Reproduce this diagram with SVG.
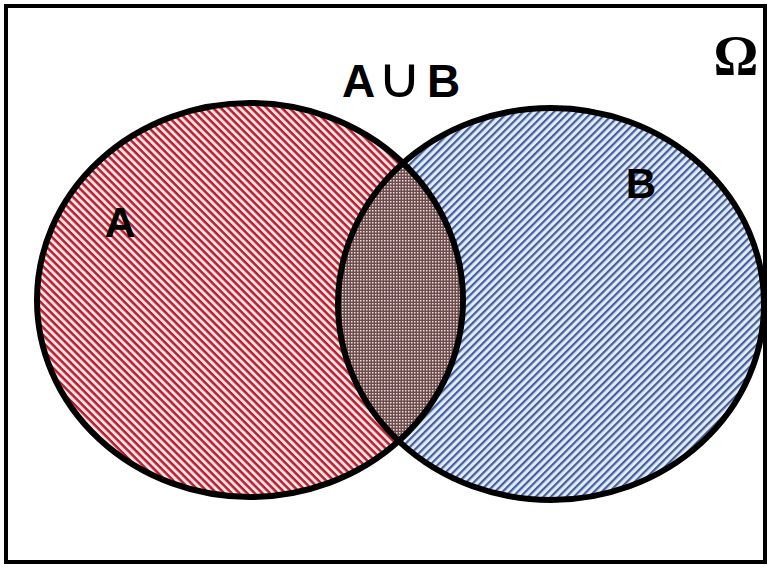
<svg xmlns="http://www.w3.org/2000/svg" width="771" height="568" viewBox="0 0 771 568">
<defs>
<pattern id="hatchA" patternUnits="userSpaceOnUse" width="5.4" height="5.4" patternTransform="rotate(45)">
<rect width="5.4" height="5.4" fill="#fbe3e3"/>
<rect y="0" width="5.4" height="2.5" fill="#b81d30"/>
</pattern>
<pattern id="hatchB" patternUnits="userSpaceOnUse" width="5.4" height="5.4" patternTransform="rotate(-45)">
<rect width="5.4" height="5.4" fill="#dcedf9"/>
<rect y="0" width="5.4" height="2.2" fill="#4a5c9a"/>
</pattern>
<pattern id="check" patternUnits="userSpaceOnUse" width="3" height="3">
<rect width="3" height="3" fill="#6e4c4c"/>
<rect x="0" y="0" width="1.5" height="1.5" fill="#e8dede"/>
</pattern>
<clipPath id="clipA"><ellipse cx="250" cy="300" rx="213" ry="197"/></clipPath>
</defs>
<style>
.outline{fill:none;stroke:#000;stroke-width:6}
.lbl{font-family:"Liberation Sans",Arial,sans-serif;font-weight:bold;fill:#000}
</style>
<rect x="6" y="6" width="759" height="556" fill="#fff" stroke="#000" stroke-width="4"/>
<g id="setA">
<ellipse cx="250" cy="300" rx="213" ry="197" fill="url(#hatchA)"/>
</g>
<g id="setB">
<ellipse cx="551" cy="304" rx="213" ry="196" fill="url(#hatchB)"/>
</g>
<g id="intersection">
<ellipse cx="551" cy="304" rx="213" ry="196" fill="url(#check)" clip-path="url(#clipA)"/>
</g>
<g id="outlines">
<ellipse class="outline" cx="250" cy="300" rx="213" ry="197"/>
<ellipse class="outline" cx="551" cy="304" rx="213" ry="196"/>
</g>
<g id="labels">
<text class="lbl" x="120" y="237" font-size="43" text-anchor="middle">A</text>
<text class="lbl" x="641" y="198" font-size="42" text-anchor="middle">B</text>
<text class="lbl" y="97" font-size="46"><tspan x="342">A</tspan><tspan x="377" font-family="'DejaVu Sans',sans-serif" font-weight="normal" font-size="56" textLength="45" lengthAdjust="spacingAndGlyphs">∪</tspan><tspan x="427">B</tspan></text>
<text x="736" y="75" font-family="'Liberation Serif','Times New Roman',serif" font-weight="bold" font-size="56" text-anchor="middle" fill="#000">Ω</text>
</g>
</svg>
